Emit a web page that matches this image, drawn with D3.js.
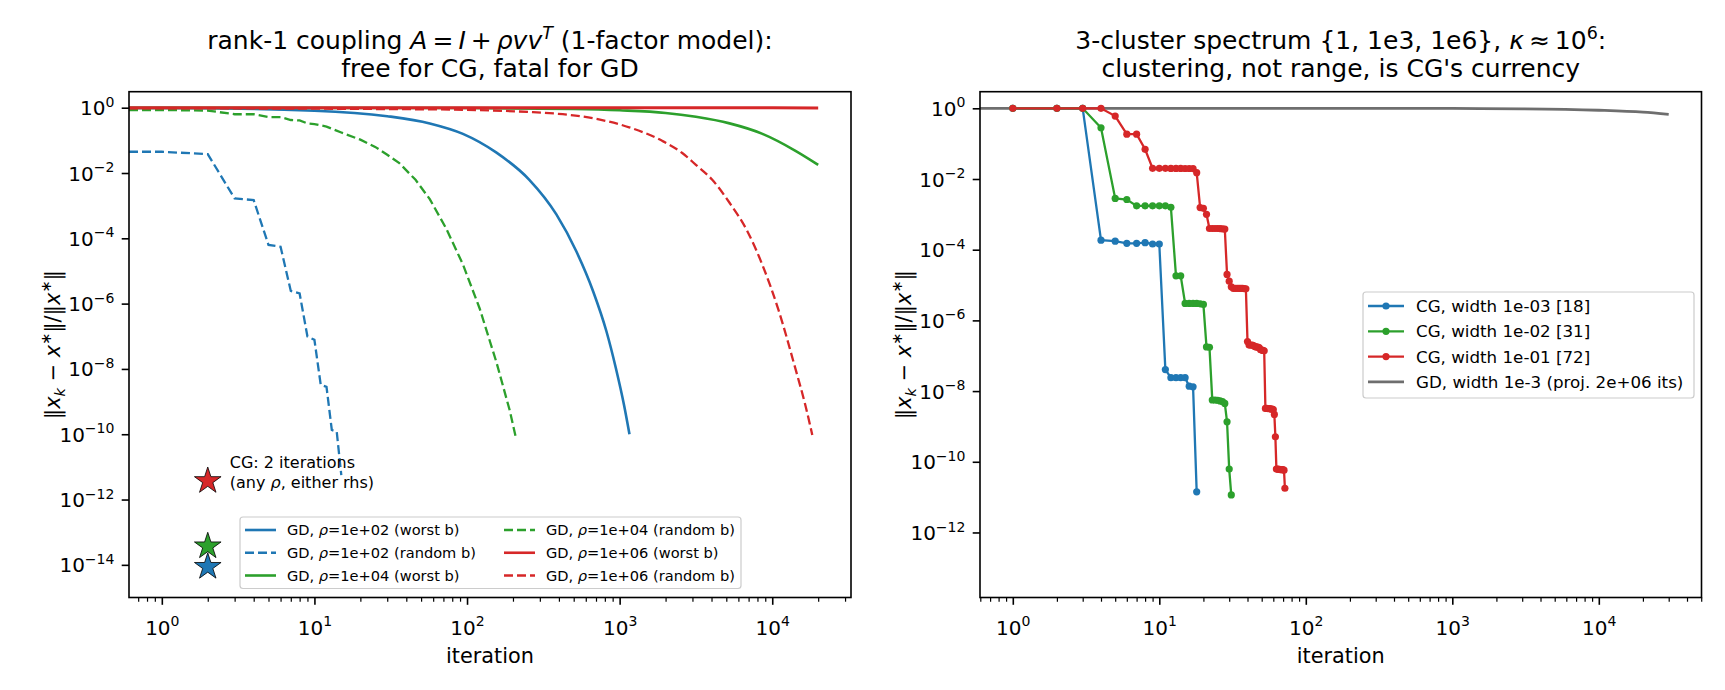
<!DOCTYPE html>
<html><head><meta charset="utf-8">
<script src="https://cdn.jsdelivr.net/npm/d3@7"></script>
<style>
body{margin:0;background:#fff}
text{font-family:"DejaVu Sans",sans-serif;fill:#000}
</style>
</head><body>
<svg id="c" width="1725" height="690"></svg>
<script>
// ---------------- data: left panel (GD on A = I + rho v v^T) ----------------
const gd2WorstIt  = [1, 10, 30, 57, 94, 156, 256, 385, 520, 670, 820, 945, 1070, 1160];
const gd2WorstErr = [0.98, 0.81, 0.55, 0.33, 0.158, 0.042, 6.2e-3, 5.4e-4, 4.0e-5, 2.4e-6, 1.4e-7, 1.05e-8, 7.6e-10, 1.0e-10];
const gd2RandIt   = [1, 2, 3, 4, 5, 6, 7, 8, 9, 10, 11, 12, 13, 14, 15];
const gd2RandErr  = [0.0447, 0.038, 1.66e-3, 1.48e-3, 6.3e-5, 5.5e-5, 2.45e-6, 2.04e-6, 9.8e-8, 7.8e-8, 3.24e-9, 2.82e-9, 1.35e-10, 1.2e-10, 5.6e-12];
const gd4WorstIt  = [1, 100, 500, 1000, 2000, 3160, 5250, 8630, 14200, 20000];
const gd4WorstErr = [0.99, 0.977, 0.912, 0.832, 0.692, 0.525, 0.331, 0.158, 0.0479, 0.0178];
const gd4RandIt   = [1, 2, 3, 4, 5, 6, 7, 8, 9, 10, 12, 15, 20, 25, 30, 36, 46, 57, 73, 94, 121, 156, 190, 208];
const gd4RandErr  = [0.851, 0.813, 0.631, 0.631, 0.519, 0.513, 0.42, 0.407, 0.331, 0.316, 0.263, 0.174, 0.105, 0.063, 0.0363, 0.02, 6.2e-3, 1.58e-3, 2.0e-4, 1.58e-5, 7.1e-7, 1.58e-8, 5.6e-10, 8.7e-11];
const gd6WorstIt  = [1, 100, 1000, 10000, 20000];
const gd6WorstErr = [0.99, 0.99, 0.99, 0.988, 0.985];
const gd6RandIt   = [1, 57, 250, 424, 700, 1155, 1910, 2560, 3160, 4045, 5250, 6810, 8630, 11000, 14200, 16500, 18300];
const gd6RandErr  = [0.955, 0.891, 0.741, 0.631, 0.457, 0.251, 0.0955, 0.0417, 0.0178, 6.2e-3, 1.23e-3, 1.78e-4, 1.51e-5, 6.3e-7, 1.0e-8, 7.6e-10, 9.5e-11];
const leftLabels  = ["GD, \u03c1=1e+02 (worst b)", "GD, \u03c1=1e+02 (random b)", "GD, \u03c1=1e+04 (worst b)",
                     "GD, \u03c1=1e+04 (random b)", "GD, \u03c1=1e+06 (worst b)", "GD, \u03c1=1e+06 (random b)"];
const cgStarIt    = [2, 2, 2];
const cgStarErr   = [3.7e-12, 3.7e-14, 8.7e-15];   // rho = 1e6, 1e4, 1e2
const leftYTicks  = [1, 1e-2, 1e-4, 1e-6, 1e-8, 1e-10, 1e-12, 1e-14];
const leftYTickExp = ["0", "\u22122", "\u22124", "\u22126", "\u22128", "\u221210", "\u221212", "\u221214"];

// ---------------- data: right panel (3-cluster spectrum) ----------------
const cgW3Err = [1, 1, 1, 1.86e-4, 1.74e-4, 1.51e-4, 1.51e-4, 1.58e-4, 1.45e-4, 1.45e-4, 4.07e-8, 2.4e-8, 2.4e-8, 2.4e-8, 2.4e-8, 1.38e-8, 1.32e-8, 1.41e-11];
const cgW2Err = [1, 1, 1, 0.282, 2.82e-3, 2.63e-3, 1.74e-3, 1.74e-3, 1.74e-3, 1.74e-3, 1.74e-3, 1.58e-3, 1.82e-5, 1.82e-5, 3.02e-6, 3.02e-6, 3.02e-6, 3.02e-6, 2.95e-6, 2.82e-6,
                 1.78e-7, 1.74e-7, 5.6e-9, 5.6e-9, 5.5e-9, 5.25e-9, 5.0e-9, 4.47e-9, 1.35e-9, 6.2e-11, 1.15e-11];
const cgW1Err = [1, 1, 1, 1, 0.603, 0.186, 0.186, 0.0692, 0.02, 0.02, 0.02, 0.0199, 0.0199, 0.0199, 0.0198, 0.0198, 0.0197, 0.0151,
                 1.55e-3, 1.48e-3, 1.0e-3, 3.98e-4, 3.98e-4, 3.98e-4, 3.98e-4, 3.95e-4, 3.9e-4, 3.85e-4,
                 2.0e-5, 1.29e-5, 8.9e-6, 8.1e-6, 8.1e-6, 8.1e-6, 8.1e-6, 8.0e-6, 8.0e-6, 7.9e-6, 7.8e-6,
                 2.51e-7, 2.0e-7, 2.0e-7, 2.0e-7, 1.95e-7, 1.8e-7, 1.78e-7, 1.75e-7, 1.7e-7, 1.5e-7, 1.45e-7, 1.41e-7, 1.38e-7,
                 3.24e-9, 3.24e-9, 3.2e-9, 3.2e-9, 3.15e-9, 3.1e-9, 3.1e-9, 3.0e-9, 2.19e-9, 5.1e-10,
                 6.2e-11, 6.2e-11, 6.1e-11, 6.1e-11, 6.0e-11, 6.0e-11, 6.0e-11, 5.9e-11, 5.8e-11, 1.78e-11];
const gdRightIt  = [1, 100, 1000, 3000, 10000, 20000, 30000];
const gdRightErr = [1.0, 1.0, 0.99, 0.97, 0.881, 0.776, 0.676];
const rightLabels = ["CG, width 1e-03 [18]", "CG, width 1e-02 [31]", "CG, width 1e-01 [72]", "GD, width 1e-3 (proj. 2e+06 its)"];
const rightYTicks = [1, 1e-2, 1e-4, 1e-6, 1e-8, 1e-10, 1e-12];
const rightYTickExp = ["0", "\u22122", "\u22124", "\u22126", "\u22128", "\u221210", "\u221212"];
const xTicks = [1, 10, 100, 1000, 10000];
const xTickExp = ["0", "1", "2", "3", "4"];

// ---------------- layout / style ----------------
const C = {blue:"#1f77b4", green:"#2ca02c", red:"#d62728", gray:"#6e6e6e"};
const TOP = 91.7, BOT = 597.5;
const svg = d3.select("#c");
const FS_TICK = 20, FS_LABEL = 20.8, FS_TITLE = 25;

function mtext(g, parts, fs) {
  // parts: {t, i (italic), sup, sub}
  let shift = 0;
  parts.forEach(p => {
    let target = p.sup ? -0.42 * fs : (p.sub ? 0.22 * fs : 0);
    const ts = g.append("tspan").text(p.t);
    if (target !== shift) { ts.attr("dy", target - shift); shift = target; }
    if (p.sup || p.sub) ts.attr("font-size", 0.7 * fs);
    if (p.i) ts.attr("font-style", "oblique");
  });
  return g;
}

function logExtent(lo, hi) {
  const a = Math.log10(lo), b = Math.log10(hi), pad = 0.05 * (b - a);
  return [Math.pow(10, a - pad), Math.pow(10, b + pad)];
}

function minorTicks(domain) {
  const out = [];
  for (let e = Math.floor(Math.log10(domain[0])); e <= Math.ceil(Math.log10(domain[1])); e++)
    for (let m = 2; m <= 9; m++) { const v = m * Math.pow(10, e); if (v >= domain[0] && v <= domain[1]) out.push(v); }
  return out;
}

function drawAxes(g, x, y, yTicks, yExp, left, right) {
  const xd = x.domain();
  g.append("g").attr("transform", `translate(0,${BOT})`)
    .call(d3.axisBottom(x).tickValues(minorTicks(xd)).tickSize(4.2).tickFormat(""))
    .call(s => { s.select(".domain").remove(); s.selectAll("line").attr("stroke", "#000").attr("stroke-width", 1.2); });
  const ax = g.append("g").attr("transform", `translate(0,${BOT})`)
    .call(d3.axisBottom(x).tickValues(xTicks).tickSize(7.3).tickFormat(""))
    .call(s => { s.select(".domain").remove(); s.selectAll("line").attr("stroke", "#000").attr("stroke-width", 1.6); });
  ax.selectAll(".tick").each(function(d, i) {
    const t = d3.select(this).append("text").attr("y", 37).attr("text-anchor", "middle")
      .attr("font-size", FS_TICK).attr("fill", "#000");
    mtext(t, [{t:"10"}, {t:xTickExp[i], sup:1}], FS_TICK);
  });
  const ay = g.append("g").attr("transform", `translate(${left},0)`)
    .call(d3.axisLeft(y).tickValues(yTicks).tickSize(7.3).tickFormat(""))
    .call(s => { s.select(".domain").remove(); s.selectAll("line").attr("stroke", "#000").attr("stroke-width", 1.6); });
  ay.selectAll(".tick").each(function(d, i) {
    const t = d3.select(this).append("text").attr("x", -14.6).attr("y", 7).attr("text-anchor", "end")
      .attr("font-size", FS_TICK).attr("fill", "#000");
    mtext(t, [{t:"10"}, {t:yExp[i], sup:1}], FS_TICK);
  });
  g.append("rect").attr("x", left).attr("y", TOP).attr("width", right - left).attr("height", BOT - TOP)
    .attr("fill", "none").attr("stroke", "#000").attr("stroke-width", 1.6);
  g.append("text").attr("x", (left + right) / 2).attr("y", 663).attr("text-anchor", "middle")
    .attr("font-size", FS_LABEL).text("iteration");
  const yl = g.append("text").attr("transform", `translate(${left - 69},${(TOP + BOT) / 2}) rotate(-90)`)
    .attr("text-anchor", "middle").attr("font-size", FS_LABEL);
  mtext(yl, [{t:"\u2016"}, {t:"x", i:1}, {t:"k", i:1, sub:1}, {t:" \u2212 "}, {t:"x", i:1}, {t:"\u2217", sup:1},
             {t:"\u2016/\u2016"}, {t:"x", i:1}, {t:"\u2217", sup:1}, {t:"\u2016"}], FS_LABEL);
}

function drawLine(g, x, y, its, errs, color, dashed, lw, smooth, fromLeft) {
  const pts = its.map((n, i) => [n, errs[i]]);
  if (fromLeft) pts.unshift([x.domain()[0], errs[0]]);
  const line = d3.line().x(d => x(d[0])).y(d => y(d[1])).curve(smooth ? d3.curveMonotoneX : d3.curveLinear);
  g.append("path").datum(pts).attr("d", line).attr("fill", "none").attr("stroke", color)
    .attr("stroke-width", lw).attr("stroke-dasharray", dashed ? "9,4" : null);
}

// ================= LEFT PANEL =================
{
  const L = 129, R = 851;
  const x = d3.scaleLog().domain(logExtent(1, 20000)).range([L, R]);
  const y = d3.scaleLog().domain([Math.pow(10, -15.0), Math.pow(10, 0.49)]).range([BOT, TOP]);
  const g = svg.append("g");
  svg.append("clipPath").attr("id", "clipL").append("rect").attr("x", L).attr("y", TOP).attr("width", R - L).attr("height", BOT - TOP);
  const gp = g.append("g").attr("clip-path", "url(#clipL)");
  drawLine(gp, x, y, gd2WorstIt, gd2WorstErr, C.blue, false, 2.6, true, true);
  drawLine(gp, x, y, gd2RandIt, gd2RandErr, C.blue, true, 2.3, false, true);
  drawLine(gp, x, y, gd4WorstIt, gd4WorstErr, C.green, false, 2.6, true, true);
  drawLine(gp, x, y, gd4RandIt, gd4RandErr, C.green, true, 2.3, false, true);
  drawLine(gp, x, y, gd6WorstIt, gd6WorstErr, C.red, false, 3, true, true);
  drawLine(gp, x, y, gd6RandIt, gd6RandErr, C.red, true, 2.3, true, true);
  const star = d3.symbol().type(d3.symbolStar).size(14 * 14 / 0.8908130915292852);
  const starCols = [C.red, C.green, C.blue];
  cgStarIt.forEach((n, i) => {
    g.append("path").attr("d", star).attr("transform", `translate(${x(n)},${y(cgStarErr[i])})`)
      .attr("fill", starCols[i]).attr("stroke", "#000").attr("stroke-width", 0.8);
  });
  const ax0 = x(cgStarIt[0]) + 22, ay0 = y(cgStarErr[0]);
  g.append("text").attr("x", ax0).attr("y", ay0 - 12.5).attr("font-size", 16).text("CG: 2 iterations");
  mtext(g.append("text").attr("x", ax0).attr("y", ay0 + 7.5).attr("font-size", 16),
        [{t:"(any "}, {t:"\u03c1", i:1}, {t:", either rhs)"}], 16);
  drawAxes(g, x, y, leftYTicks, leftYTickExp, L, R);
  const tx = (L + R) / 2;
  mtext(g.append("text").attr("x", tx).attr("y", 49).attr("text-anchor", "middle").attr("font-size", FS_TITLE),
    [{t:"rank-1 coupling "}, {t:"A", i:1}, {t:"\u2009=\u2009"}, {t:"I", i:1}, {t:"\u2009+\u2009"}, {t:"\u03c1vv", i:1}, {t:"T", i:1, sup:1}, {t:" (1-factor model):"}], FS_TITLE);
  g.append("text").attr("x", tx).attr("y", 77).attr("text-anchor", "middle").attr("font-size", FS_TITLE).text("free for CG, fatal for GD");
  const lg = g.append("g");
  lg.append("rect").attr("x", 240).attr("y", 517).attr("width", 501).attr("height", 71.5).attr("rx", 3)
    .attr("fill", "#fff").attr("fill-opacity", 0.8).attr("stroke", "#cccccc").attr("stroke-width", 1.2);
  const items = [[C.blue,false],[C.blue,true],[C.green,false],[C.green,true],[C.red,false],[C.red,true]];
  items.forEach((it, i) => {
    const col = Math.floor(i / 3), row = i % 3;
    const hx = col ? 504 : 245, ty = 530 + row * 22.75;
    lg.append("line").attr("x1", hx).attr("x2", hx + 31).attr("y1", ty).attr("y2", ty)
      .attr("stroke", it[0]).attr("stroke-width", it[1] ? 2.3 : 2.6).attr("stroke-dasharray", it[1] ? "9,4" : null);
    const parts = leftLabels[i].split("\u03c1");
    mtext(lg.append("text").attr("x", hx + 42).attr("y", ty + 5.2).attr("font-size", 14.6),
      [{t:parts[0]}, {t:"\u03c1", i:1}, {t:parts[1]}], 14.6);
  });
}

// ================= RIGHT PANEL =================
{
  const L = 980, R = 1701.5;
  const x = d3.scaleLog().domain(logExtent(1, 30000)).range([L, R]);
  const y = d3.scaleLog().domain([Math.pow(10, -13.84), Math.pow(10, 0.47)]).range([BOT, TOP]);
  const g = svg.append("g");
  svg.append("clipPath").attr("id", "clipR").append("rect").attr("x", L).attr("y", TOP).attr("width", R - L).attr("height", BOT - TOP);
  const gp = g.append("g").attr("clip-path", "url(#clipR)");
  drawLine(gp, x, y, gdRightIt, gdRightErr, C.gray, false, 2.8, true, true);
  const cg = [[cgW3Err, C.blue], [cgW2Err, C.green], [cgW1Err, C.red]];
  cg.forEach(([errs, col]) => {
    const its = errs.map((_, i) => i + 1);
    drawLine(gp, x, y, its, errs, col, false, 2.3, false, false);
    gp.append("g").selectAll("circle").data(errs).join("circle")
      .attr("cx", (d, i) => x(its[i])).attr("cy", d => y(d)).attr("r", 3.6).attr("fill", col);
  });
  drawAxes(g, x, y, rightYTicks, rightYTickExp, L, R);
  const tx = (L + R) / 2;
  mtext(g.append("text").attr("x", tx).attr("y", 49).attr("text-anchor", "middle").attr("font-size", FS_TITLE),
    [{t:"3-cluster spectrum {1, 1e3, 1e6}, "}, {t:"\u03ba", i:1}, {t:"\u2009\u2248\u200910"}, {t:"6", sup:1}, {t:":"}], FS_TITLE);
  g.append("text").attr("x", tx).attr("y", 77).attr("text-anchor", "middle").attr("font-size", FS_TITLE)
    .text("clustering, not range, is CG's currency");
  const lg = g.append("g");
  lg.append("rect").attr("x", 1363).attr("y", 292).attr("width", 331).attr("height", 106).attr("rx", 3)
    .attr("fill", "#fff").attr("fill-opacity", 0.8).attr("stroke", "#cccccc").attr("stroke-width", 1.2);
  const cols = [C.blue, C.green, C.red, C.gray];
  rightLabels.forEach((lab, i) => {
    const ty = 306 + i * 25.3;
    lg.append("line").attr("x1", 1368).attr("x2", 1404).attr("y1", ty).attr("y2", ty)
      .attr("stroke", cols[i]).attr("stroke-width", i === 3 ? 2.8 : 2.3);
    if (i < 3) lg.append("circle").attr("cx", 1386).attr("cy", ty).attr("r", 3.6).attr("fill", cols[i]);
    lg.append("text").attr("x", 1416).attr("y", ty + 6).attr("font-size", 16.7).text(lab);
  });
}
</script>
</body></html>
